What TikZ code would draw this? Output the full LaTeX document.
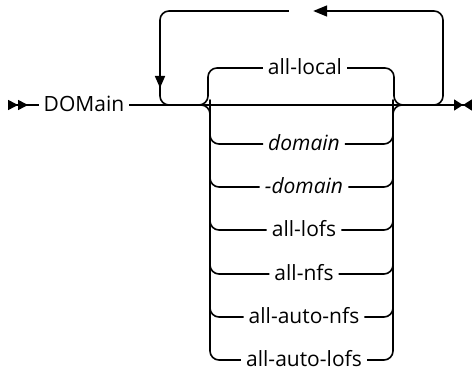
\documentclass[tikz,border=0pt]{standalone}
\usepackage{fontspec}
\setmainfont{Open Sans}
\usetikzlibrary{arrows.meta}

\begin{document}
\begin{tikzpicture}[x=1pt, y=-1pt,
    rail/.style={line width=1.6pt, rounded corners=9pt},
    kw/.style={font=\fontsize{21}{25}\selectfont, inner xsep=5pt, inner ysep=0pt,
        text height=14pt, text depth=0pt},
    var/.style={kw, font=\fontsize{21}{25}\selectfont\itshape}]
\useasboundingbox (0,0) rectangle (472,371);
\node[kw] (dom) at (84,105) {DOMain};
\coordinate (start) at (8,105);
\coordinate (stop) at (472,105);
\node[inner sep=0pt, minimum width=24pt, minimum height=4pt] (sep) at (301,11) {};
\node[kw] (loc) at (305,68) {all-local};
\node[var] (dn) at (304,144) {domain};
\node[var] (ndn) at (304,187) {-domain};
\node[kw] (lofs) at (304,230) {all-lofs};
\node[kw] (nfs) at (304,274) {all-nfs};
\node[kw] (anfs) at (304,317) {all-auto-nfs};
\node[kw] (alofs) at (304,360) {all-auto-lofs};
\draw[line width=1.6pt, {Triangle[reversed, length=10pt, width=10pt] Triangle[reversed, length=10pt, width=10pt]}-]
    (start) -- (dom.west);
\draw[line width=1.6pt, -{Triangle[length=9pt, width=11pt] Triangle[reversed, length=9pt, width=11pt]}]
    (dom.east) -- (stop);
\draw[rail, -{Triangle[length=14pt, width=11pt]}] (420,105) -| (443,11) -- (sep.east);
\draw[rail, -{Triangle[length=12pt, width=10pt]}] (sep.west) -| (160,88);
\draw[rail] (160,80) |- (185,105);
\draw[rail] (196,105) -| (208,68) -- (loc.west);
\draw[rail] (loc.east) -| (394,105) -- (406,105);
\draw[rail] (196,105) -| (210,360) -- (alofs.west);
\draw[rail] (alofs.east) -| (393,105) -- (406,105);
\foreach \n in {dn,ndn,lofs,nfs,anfs}{
    \draw[rail] (210,100) |- (\n.west);
    \draw[rail] (\n.east) -| (393,100);
}
\end{tikzpicture}
\end{document}
